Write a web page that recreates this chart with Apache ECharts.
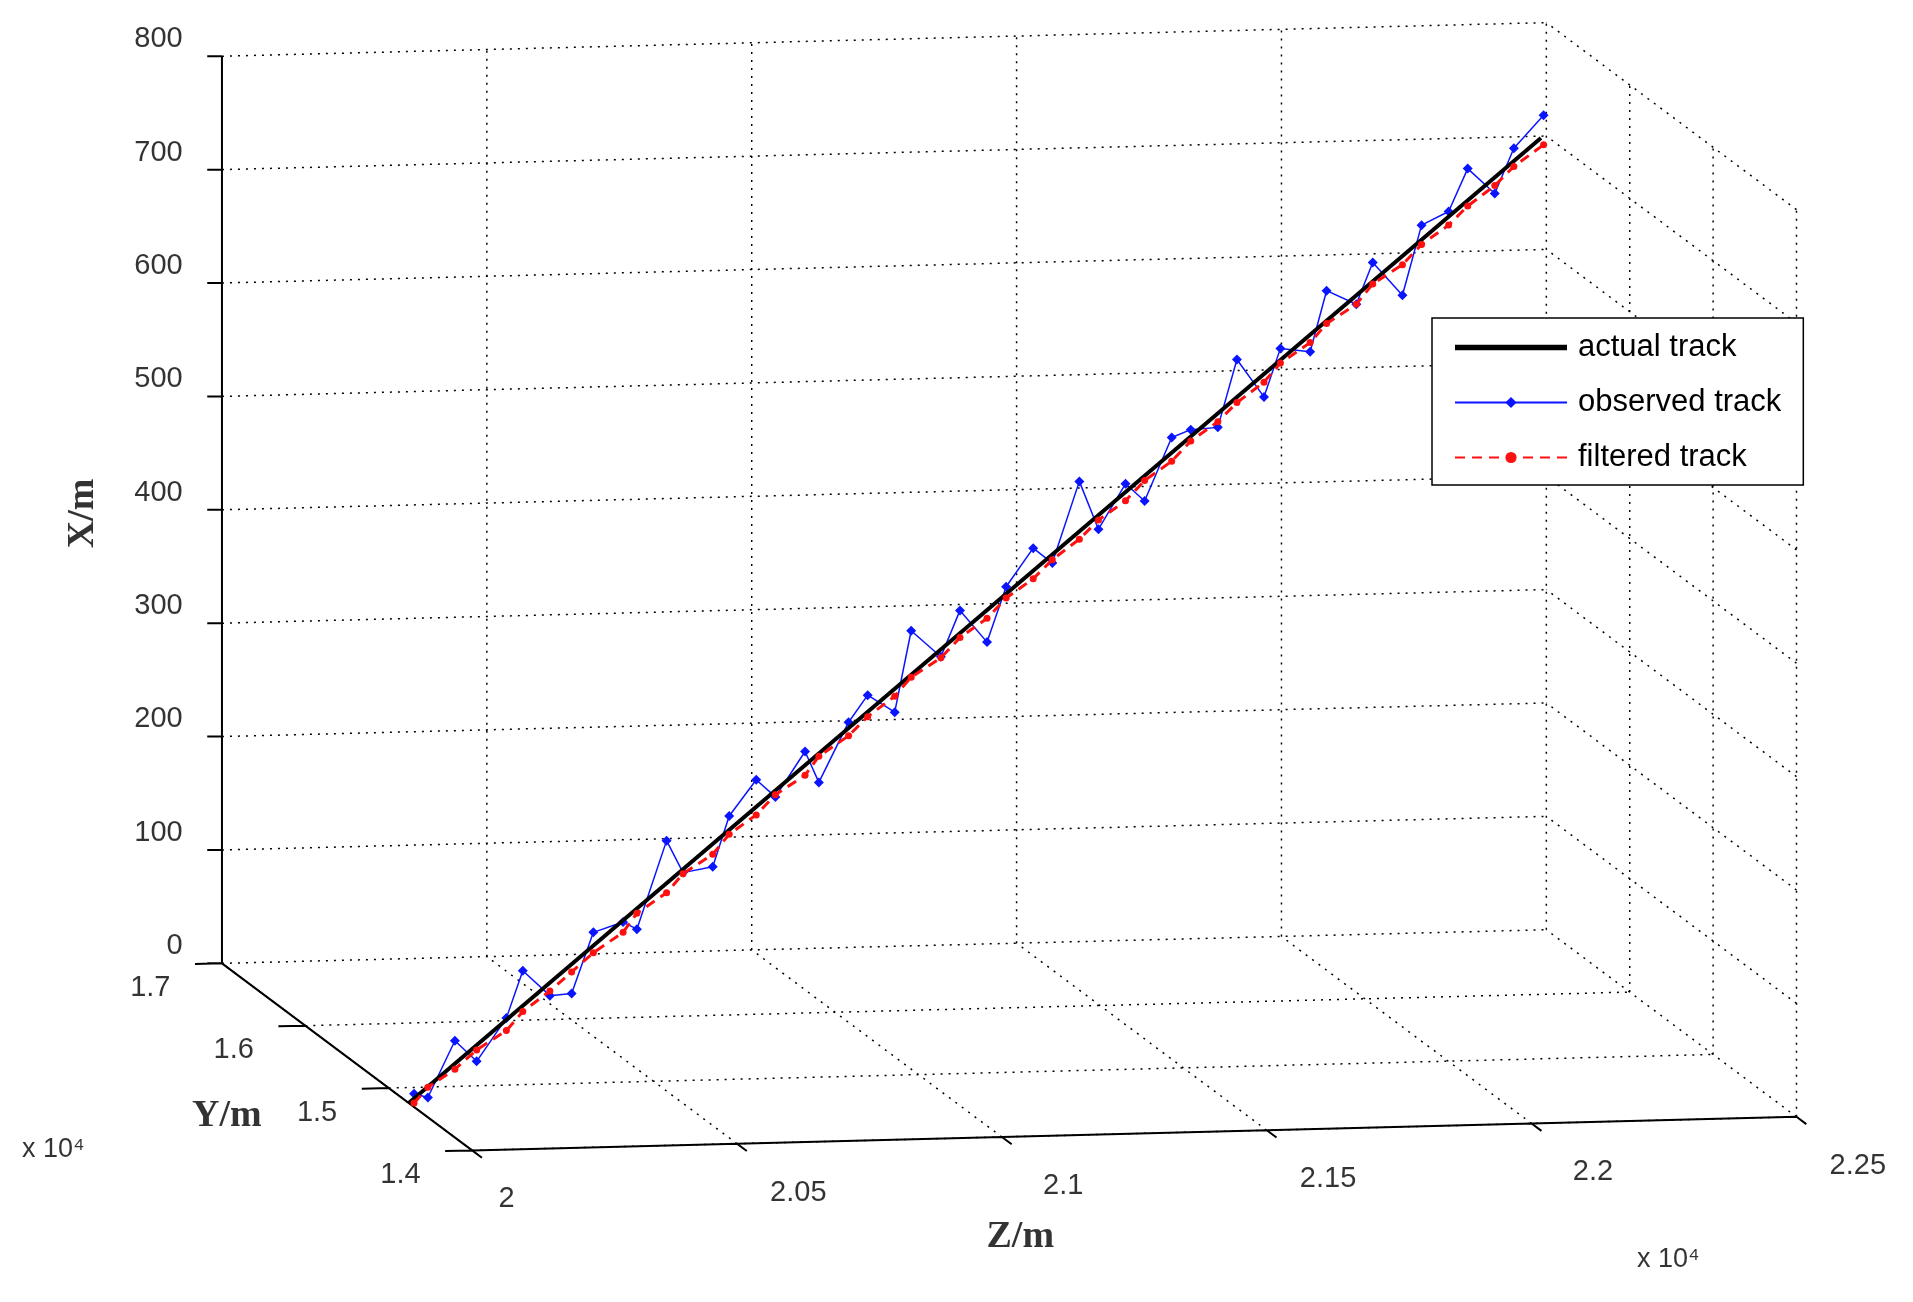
<!DOCTYPE html>
<html><head><meta charset="utf-8">
<script src="https://cdn.jsdelivr.net/npm/echarts@6/dist/echarts.min.js"></script>
<style>html,body{margin:0;padding:0;background:#fff}#c{width:1913px;height:1302px}</style>
</head><body><div id="c"></div>
<script>
// ---- data (Z, Y in metres; X in metres) ----
const zTicks = [20000, 20500, 21000, 21500, 22000, 22500];
const zTickLabels = ['2', '2.05', '2.1', '2.15', '2.2', '2.25'];
const yTicks = [14000, 15000, 16000, 17000];
const yTickLabels = ['1.4', '1.5', '1.6', '1.7'];
const xTicks = [0, 100, 200, 300, 400, 500, 600, 700, 800];
const xTickLabels = ['0', '100', '200', '300', '400', '500', '600', '700', '800'];

const actualZ = [20000, 22330];
const actualY = [14760, 15985];
const actualX = [0, 756];

const obsZ = [20010,20040,20095,20140,20200,20235,20290,20335,20380,20440,20470,20530,20565,20625,20660,20715,20755,20815,20845,20905,20945,21000,21035,21095,21135,21190,21230,21285,21325,21380,21420,21475,21515,21570,21610,21665,21705,21760,21795,21855,21890,21950,21985,22045,22085,22140,22180,22235,22275,22335];
const obsY = [14760,14785,14810,14835,14860,14885,14910,14935,14960,14985,15010,15035,15060,15085,15110,15135,15160,15185,15210,15235,15260,15285,15310,15335,15360,15385,15410,15435,15460,15485,15510,15535,15560,15585,15610,15635,15660,15685,15710,15735,15760,15785,15810,15835,15860,15885,15910,15935,15960,15985];
const obsX = [8,3,51,31,67,107,83,83,135,142,134,210,180,183,226,256,239,277,248,299,321,304,374,349,388,358,405,437,422,492,448,486,469,523,528,528,586,551,592,587,639,625,660,629,689,699,735,711,749,776];
const filtX = [0,12,26,41,56,71,87,102,117,133,148,164,179,194,210,225,241,256,271,287,302,318,333,348,364,379,395,410,425,441,456,471,487,502,518,533,548,564,579,595,610,625,641,656,672,687,702,718,733,750];

// ---- projection (3D -> plot coordinates of the 2D frame) ----
function P(z, y, x) {
  return [385 + (z - 20000) / 500 * 216 - (y - 14000) / 1000 * 68,
          941 - (z - 20000) / 500 * 5.5 - (y - 14000) / 1000 * 51 - x / 100 * 92.75];
}
const zMin = zTicks[0], zMax = zTicks[zTicks.length-1];
const yMin = yTicks[0], yMax = yTicks[yTicks.length-1];
const xMin = xTicks[0], xMax = xTicks[xTicks.length-1];

const grid = [];
function seg(a, b) { grid.push(a, b, '-'); }
zTicks.forEach(z => seg(P(z, yMax, xMin), P(z, yMax, xMax)));
xTicks.forEach(x => seg(P(zMin, yMax, x), P(zMax, yMax, x)));
yTicks.forEach(y => seg(P(zMax, y, xMin), P(zMax, y, xMax)));
xTicks.forEach(x => seg(P(zMax, yMin, x), P(zMax, yMax, x)));
zTicks.forEach(z => seg(P(z, yMin, xMin), P(z, yMax, xMin)));
yTicks.forEach(y => seg(P(zMin, y, xMin), P(zMax, y, xMin)));
seg(P(zMin, yMax, xMax), P(zMax, yMax, xMax));
seg(P(zMax, yMin, xMax), P(zMax, yMax, xMax));

const axes = [];
function aseg(a, b) { axes.push(a, b, '-'); }
aseg(P(zMin, yMax, xMin), P(zMin, yMax, xMax));
aseg(P(zMin, yMin, xMin), P(zMin, yMax, xMin));
aseg(P(zMin, yMin, xMin), P(zMax, yMin, xMin));
xTicks.forEach(x => { const a = P(zMin, yMax, x); aseg(a, [a[0] - 12, a[1]]); });
yTicks.forEach(y => { const a = P(zMin, y, xMin); aseg(a, [a[0] - 22, a[1] + 0.5]); });
zTicks.forEach(z => { const a = P(z, yMin, xMin); aseg(a, [a[0] + 8, a[1] + 6]); });

const labels = [];
xTicks.forEach((x, i) => { const a = P(zMin, yMax, x); labels.push({value: [a[0] - 32, a[1] - 14, xTickLabels[i]], label: {align: 'right'}}); });
yTicks.forEach((y, i) => { const a = P(zMin, y, xMin); labels.push({value: [a[0] - 42, a[1] + 20, yTickLabels[i]], label: {align: 'right'}}); });
zTicks.forEach((z, i) => { const a = P(z, yMin, xMin); labels.push({value: [a[0] + 28 + (i === 0 ? 0 : 22), a[1] + 40, zTickLabels[i]], label: {align: 'center'}}); });
labels.push({value: [18, 940, 'x 10⁴'], label: {align: 'left', fontSize: 27}});
labels.push({value: [1335, 1030, 'x 10⁴'], label: {align: 'left', fontSize: 27}});
labels.push({value: [185, 913, 'Y/m'], label: {align: 'center', fontFamily: 'Liberation Serif', fontWeight: 'bold', fontSize: 38}});
labels.push({value: [832, 1012, 'Z/m'], label: {align: 'center', fontFamily: 'Liberation Serif', fontWeight: 'bold', fontSize: 38}});
labels.push({value: [68, 420, 'X/m'], label: {align: 'center', rotate: 90, fontFamily: 'Liberation Serif', fontWeight: 'bold', fontSize: 38}});

const actual = actualZ.map((z, i) => P(z, actualY[i], actualX[i]));
const observed = obsZ.map((z, i) => P(z, obsY[i], obsX[i]));
const filtered = obsZ.map((z, i) => P(z, obsY[i], filtX[i]));

const chart = echarts.init(document.getElementById('c'));
chart.setOption({
  animation: false,
  backgroundColor: '#fff',
  grid: {left: 0, right: 0, top: 0, bottom: 0},
  xAxis: {type: 'value', min: 0, max: 1560, show: false},
  yAxis: {type: 'value', min: 0, max: 1065, inverse: true, show: false},
  legend: {
    data: [{name: 'actual track', icon: 'path://M0,0H100V5H0Z', itemStyle: {color: '#000'}},
           'observed track', 'filtered track'],
    orient: 'vertical', left: 1432, top: 318,
    backgroundColor: '#fff', borderColor: '#000', borderWidth: 1.5, borderRadius: 0,
    padding: [14, 22, 12, 22], itemGap: 24, itemWidth: 112, itemHeight: 14,
    textStyle: {fontSize: 31, fontFamily: 'Liberation Sans', color: '#000', padding: [0, 0, 0, 6]}
  },
  series: [
    {name: 'grid', type: 'line', data: grid, symbol: 'none', silent: true,
     lineStyle: {color: '#000', width: 1.5, type: [2, 6]}, z: 1},
    {name: 'axes', type: 'line', data: axes, symbol: 'none', silent: true,
     lineStyle: {color: '#000', width: 2}, z: 2},
    {name: 'labels', type: 'scatter', data: labels, symbolSize: 0, silent: true,
     label: {show: true, formatter: p => p.value[2], color: '#000', fontSize: 29,
             fontFamily: 'Liberation Sans', verticalAlign: 'middle', position: 'inside'}},
    {name: 'observed track', type: 'line', data: observed, symbol: 'diamond', symbolSize: 10,
     itemStyle: {color: '#0a14ff'}, lineStyle: {color: '#0a14ff', width: 1.5}, z: 3},
    {name: 'actual track', type: 'line', data: actual, symbol: 'none',
     itemStyle: {color: '#000'}, lineStyle: {color: '#000', width: 4}, z: 4},
    {name: 'filtered track', type: 'line', data: filtered, symbol: 'circle', symbolSize: 7,
     itemStyle: {color: '#ff1010'}, lineStyle: {color: '#ff1010', width: 3, type: [10, 7]}, z: 5}
  ]
});
</script></body></html>
